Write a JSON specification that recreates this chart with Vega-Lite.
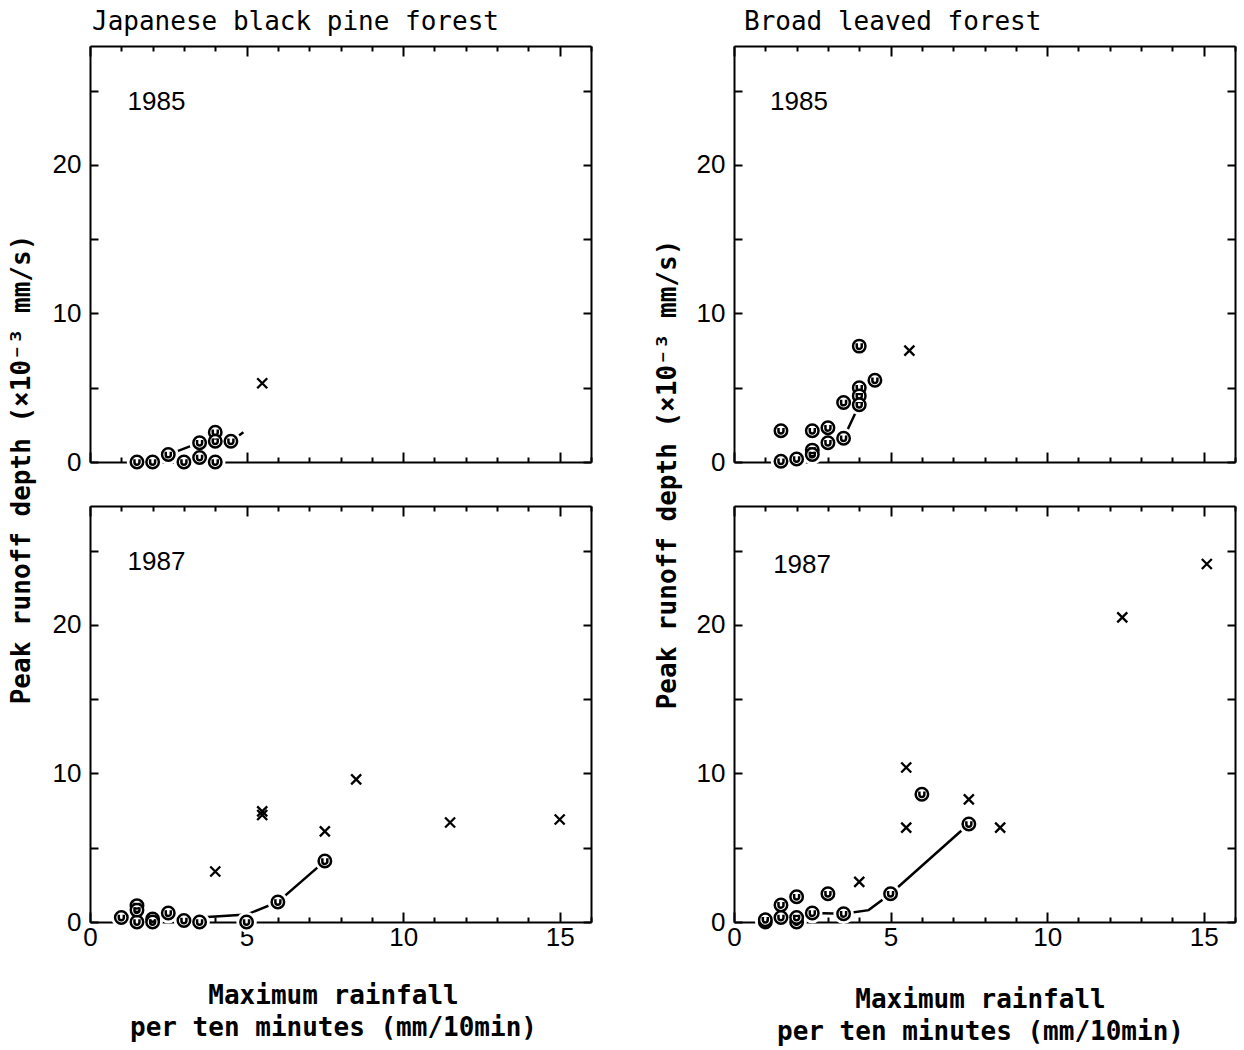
{
  "$schema": "https://vega.github.io/schema/vega-lite/v6.json",
  "padding": {"left": 8, "top": 9, "right": 5, "bottom": 5},
  "background": "white",
  "datasets": {
    "pts": [
      {"panel": "P85", "kind": "circle", "x": 1.5, "y": 0},
      {"panel": "P85", "kind": "circle", "x": 2, "y": 0},
      {"panel": "P85", "kind": "circle", "x": 2.5, "y": 0.5},
      {"panel": "P85", "kind": "circle", "x": 3, "y": 0},
      {"panel": "P85", "kind": "circle", "x": 3.5, "y": 1.3},
      {"panel": "P85", "kind": "circle", "x": 3.5, "y": 0.3},
      {"panel": "P85", "kind": "circle", "x": 4, "y": 2.0},
      {"panel": "P85", "kind": "circle", "x": 4, "y": 1.4},
      {"panel": "P85", "kind": "circle", "x": 4, "y": 0},
      {"panel": "P85", "kind": "circle", "x": 4.5, "y": 1.4},
      {"panel": "P85", "kind": "cross", "x": 5.5, "y": 5.3},
      {"panel": "P85", "kind": "line", "x": 2.0, "y": 0.1},
      {"panel": "P85", "kind": "line", "x": 2.5, "y": 0.5},
      {"panel": "P85", "kind": "line", "x": 3.5, "y": 1.3},
      {"panel": "P85", "kind": "line", "x": 4.0, "y": 1.45},
      {"panel": "P85", "kind": "line", "x": 4.5, "y": 1.4},
      {"panel": "P85", "kind": "line", "x": 4.9, "y": 2.0},

      {"panel": "P87", "kind": "circle", "x": 1, "y": 0.3},
      {"panel": "P87", "kind": "circle", "x": 1.5, "y": 0},
      {"panel": "P87", "kind": "circle", "x": 1.5, "y": 1.1},
      {"panel": "P87", "kind": "circle", "x": 1.5, "y": 0.8},
      {"panel": "P87", "kind": "circle", "x": 2, "y": 0.2},
      {"panel": "P87", "kind": "circle", "x": 2, "y": 0},
      {"panel": "P87", "kind": "circle", "x": 2.5, "y": 0.6},
      {"panel": "P87", "kind": "circle", "x": 3, "y": 0.1},
      {"panel": "P87", "kind": "circle", "x": 3.5, "y": 0},
      {"panel": "P87", "kind": "circle", "x": 5, "y": 0},
      {"panel": "P87", "kind": "circle", "x": 6, "y": 1.35},
      {"panel": "P87", "kind": "circle", "x": 7.5, "y": 4.1},
      {"panel": "P87", "kind": "cross", "x": 4, "y": 3.4},
      {"panel": "P87", "kind": "cross", "x": 5.5, "y": 7.2},
      {"panel": "P87", "kind": "cross", "x": 5.5, "y": 7.45},
      {"panel": "P87", "kind": "cross", "x": 7.5, "y": 6.1},
      {"panel": "P87", "kind": "cross", "x": 8.5, "y": 9.6},
      {"panel": "P87", "kind": "cross", "x": 11.5, "y": 6.7},
      {"panel": "P87", "kind": "cross", "x": 15, "y": 6.9},
      {"panel": "P87", "kind": "line", "x": 3.5, "y": 0.3},
      {"panel": "P87", "kind": "line", "x": 5, "y": 0.5},
      {"panel": "P87", "kind": "line", "x": 6, "y": 1.35},
      {"panel": "P87", "kind": "line", "x": 7.5, "y": 4.1},

      {"panel": "B85", "kind": "circle", "x": 1.5, "y": 0.05},
      {"panel": "B85", "kind": "circle", "x": 1.5, "y": 2.1},
      {"panel": "B85", "kind": "circle", "x": 2, "y": 0.2},
      {"panel": "B85", "kind": "circle", "x": 2.5, "y": 2.1},
      {"panel": "B85", "kind": "circle", "x": 2.5, "y": 0.8},
      {"panel": "B85", "kind": "circle", "x": 2.5, "y": 0.5},
      {"panel": "B85", "kind": "circle", "x": 3, "y": 1.3},
      {"panel": "B85", "kind": "circle", "x": 3, "y": 2.3},
      {"panel": "B85", "kind": "circle", "x": 3.5, "y": 1.6},
      {"panel": "B85", "kind": "circle", "x": 3.5, "y": 4.0},
      {"panel": "B85", "kind": "circle", "x": 4, "y": 7.8},
      {"panel": "B85", "kind": "circle", "x": 4, "y": 5.0},
      {"panel": "B85", "kind": "circle", "x": 4, "y": 4.45},
      {"panel": "B85", "kind": "circle", "x": 4, "y": 3.85},
      {"panel": "B85", "kind": "circle", "x": 4.5, "y": 5.5},
      {"panel": "B85", "kind": "cross", "x": 5.6, "y": 7.5},
      {"panel": "B85", "kind": "line", "x": 1.5, "y": 0.05},
      {"panel": "B85", "kind": "line", "x": 2, "y": 0.2},
      {"panel": "B85", "kind": "line", "x": 2.5, "y": 0.65},
      {"panel": "B85", "kind": "line", "x": 3, "y": 1.3},
      {"panel": "B85", "kind": "line", "x": 3.5, "y": 1.6},
      {"panel": "B85", "kind": "line", "x": 4, "y": 3.85},
      {"panel": "B85", "kind": "line", "x": 4.01, "y": 5.0},
      {"panel": "B85", "kind": "line", "x": 4.5, "y": 5.5},

      {"panel": "B87", "kind": "circle", "x": 1, "y": 0},
      {"panel": "B87", "kind": "circle", "x": 1, "y": 0.15},
      {"panel": "B87", "kind": "circle", "x": 1.5, "y": 1.15},
      {"panel": "B87", "kind": "circle", "x": 1.5, "y": 0.3},
      {"panel": "B87", "kind": "circle", "x": 2, "y": 0},
      {"panel": "B87", "kind": "circle", "x": 2, "y": 0.3},
      {"panel": "B87", "kind": "circle", "x": 2, "y": 1.7},
      {"panel": "B87", "kind": "circle", "x": 2.5, "y": 0.6},
      {"panel": "B87", "kind": "circle", "x": 3, "y": 1.9},
      {"panel": "B87", "kind": "circle", "x": 3.5, "y": 0.55},
      {"panel": "B87", "kind": "circle", "x": 5, "y": 1.9},
      {"panel": "B87", "kind": "circle", "x": 6, "y": 8.6},
      {"panel": "B87", "kind": "circle", "x": 7.5, "y": 6.6},
      {"panel": "B87", "kind": "cross", "x": 4, "y": 2.7},
      {"panel": "B87", "kind": "cross", "x": 5.5, "y": 10.4},
      {"panel": "B87", "kind": "cross", "x": 5.5, "y": 6.35},
      {"panel": "B87", "kind": "cross", "x": 7.5, "y": 8.25},
      {"panel": "B87", "kind": "cross", "x": 8.5, "y": 6.35},
      {"panel": "B87", "kind": "cross", "x": 12.4, "y": 20.5},
      {"panel": "B87", "kind": "cross", "x": 15.1, "y": 24.1},
      {"panel": "B87", "kind": "line", "x": 1, "y": 0.1},
      {"panel": "B87", "kind": "line", "x": 1.5, "y": 0.3},
      {"panel": "B87", "kind": "line", "x": 2, "y": 0.35},
      {"panel": "B87", "kind": "line", "x": 2.5, "y": 0.6},
      {"panel": "B87", "kind": "line", "x": 3.5, "y": 0.55},
      {"panel": "B87", "kind": "line", "x": 4.3, "y": 0.8},
      {"panel": "B87", "kind": "line", "x": 5, "y": 1.9},
      {"panel": "B87", "kind": "line", "x": 7.5, "y": 6.6}
    ]
  },
  "data": {"name": "pts"},
  "columns": 2,
  "spacing": {"row": 44, "column": 143},
  "bounds": "flush",
  "concat": [
    {
      "width": 501, "height": 416,
      "title": {"text": "Japanese black pine forest", "anchor": "start", "frame": "group", "dx": 2, "offset": 10},
      "transform": [{"filter": "datum.panel === 'P85'"}],
      "resolve": {"axis": {"x": "independent", "y": "independent"}},
      "layer": [
        {"transform": [{"filter": "datum.kind === 'line'"}],
         "mark": {"type": "line", "color": "black", "strokeWidth": 2.5},
         "encoding": {
           "x": {"field": "x", "type": "quantitative", "scale": {"domain": [0, 16], "nice": false, "zero": false},
                 "axis": {"orient": "bottom", "values": [0,1,2,3,4,5,6,7,8,9,10,11,12,13,14,15,16], "tickSize": {"condition": {"test": "datum.value % 5 === 0", "value": -10}, "value": -5}, "labels": false, "title": null}},
           "y": {"field": "y", "type": "quantitative", "scale": {"domain": [0, 28], "nice": false},
                 "axis": {"orient": "left", "values": [0,5,10,15,20,25], "tickSize": -8, "labelExpr": "datum.value % 10 === 0 ? datum.label : ''", "labelPadding": 17, "title": "Peak runoff depth (×10⁻³ mm/s)", "titleX": -69, "titleY": 423, "titleBaseline": "middle", "titleAlign": "center", "titleAngle": -90}}
         }},
        {"transform": [{"filter": "datum.kind === 'circle'"}],
         "mark": {"type": "point", "shape": "circle", "filled": true, "fill": "white", "strokeWidth": 0, "size": 420, "opacity": 1},
         "encoding": {"x": {"field": "x", "type": "quantitative", "axis": null}, "y": {"field": "y", "type": "quantitative", "axis": null}}},
        {"transform": [{"filter": "datum.kind === 'circle'"}],
         "mark": {"type": "point", "shape": "M-1,0A1,1,0,1,1,1,0A1,1,0,1,1,-1,0Z M-0.4,-0.45L-0.4,0.05A0.4,0.4,0,0,0,0.4,0.05L0.4,-0.45", "filled": true, "fill": "white", "stroke": "black", "strokeWidth": 2.5, "size": 155, "opacity": 1},
         "encoding": {
           "x": {"field": "x", "type": "quantitative", "axis": {"orient": "top", "values": [0,1,2,3,4,5,6,7,8,9,10,11,12,13,14,15,16], "tickSize": {"condition": {"test": "datum.value % 5 === 0", "value": -10}, "value": -5}, "labels": false, "title": null}},
           "y": {"field": "y", "type": "quantitative", "axis": {"orient": "right", "values": [0,5,10,15,20,25], "tickSize": -8, "labels": false, "title": null}}
         }},
        {"transform": [{"filter": "datum.kind === 'cross'"}],
         "mark": {"type": "point", "shape": "M-1,-1L1,1M-1,1L1,-1", "filled": false, "stroke": "black", "strokeWidth": 2.3, "size": 100, "opacity": 1},
         "encoding": {"x": {"field": "x", "type": "quantitative", "axis": null}, "y": {"field": "y", "type": "quantitative", "axis": null}}},
        {"data": {"values": [{"label": "1985"}]},
         "mark": {"type": "text", "font": "Liberation Sans", "fontSize": 26, "align": "left", "baseline": "middle", "color": "black"},
         "encoding": {"x": {"datum": 1.2, "type": "quantitative", "axis": null}, "y": {"datum": 24.2, "type": "quantitative", "axis": null}, "text": {"field": "label"}}}
      ]
    },
    {
      "width": 501, "height": 416,
      "title": {"text": "Broad leaved forest", "anchor": "start", "frame": "group", "dx": 10, "offset": 10},
      "transform": [{"filter": "datum.panel === 'B85'"}],
      "resolve": {"axis": {"x": "independent", "y": "independent"}},
      "layer": [
        {"transform": [{"filter": "datum.kind === 'line'"}],
         "mark": {"type": "line", "color": "black", "strokeWidth": 2.5},
         "encoding": {
           "x": {"field": "x", "type": "quantitative", "scale": {"domain": [0, 16], "nice": false, "zero": false},
                 "axis": {"orient": "bottom", "values": [0,1,2,3,4,5,6,7,8,9,10,11,12,13,14,15,16], "tickSize": {"condition": {"test": "datum.value % 5 === 0", "value": -10}, "value": -5}, "labels": false, "title": null}},
           "y": {"field": "y", "type": "quantitative", "scale": {"domain": [0, 28], "nice": false},
                 "axis": {"orient": "left", "values": [0,5,10,15,20,25], "tickSize": -8, "labelExpr": "datum.value % 10 === 0 ? datum.label : ''", "labelPadding": 17, "title": "Peak runoff depth (×10⁻³ mm/s)", "titleX": -67, "titleY": 428, "titleBaseline": "middle", "titleAlign": "center", "titleAngle": -90}}
         }},
        {"transform": [{"filter": "datum.kind === 'circle'"}],
         "mark": {"type": "point", "shape": "circle", "filled": true, "fill": "white", "strokeWidth": 0, "size": 420, "opacity": 1},
         "encoding": {"x": {"field": "x", "type": "quantitative", "axis": null}, "y": {"field": "y", "type": "quantitative", "axis": null}}},
        {"transform": [{"filter": "datum.kind === 'circle'"}],
         "mark": {"type": "point", "shape": "M-1,0A1,1,0,1,1,1,0A1,1,0,1,1,-1,0Z M-0.4,-0.45L-0.4,0.05A0.4,0.4,0,0,0,0.4,0.05L0.4,-0.45", "filled": true, "fill": "white", "stroke": "black", "strokeWidth": 2.5, "size": 155, "opacity": 1},
         "encoding": {
           "x": {"field": "x", "type": "quantitative", "axis": {"orient": "top", "values": [0,1,2,3,4,5,6,7,8,9,10,11,12,13,14,15,16], "tickSize": {"condition": {"test": "datum.value % 5 === 0", "value": -10}, "value": -5}, "labels": false, "title": null}},
           "y": {"field": "y", "type": "quantitative", "axis": {"orient": "right", "values": [0,5,10,15,20,25], "tickSize": -8, "labels": false, "title": null}}
         }},
        {"transform": [{"filter": "datum.kind === 'cross'"}],
         "mark": {"type": "point", "shape": "M-1,-1L1,1M-1,1L1,-1", "filled": false, "stroke": "black", "strokeWidth": 2.3, "size": 100, "opacity": 1},
         "encoding": {"x": {"field": "x", "type": "quantitative", "axis": null}, "y": {"field": "y", "type": "quantitative", "axis": null}}},
        {"data": {"values": [{"label": "1985"}]},
         "mark": {"type": "text", "font": "Liberation Sans", "fontSize": 26, "align": "left", "baseline": "middle", "color": "black"},
         "encoding": {"x": {"datum": 1.15, "type": "quantitative", "axis": null}, "y": {"datum": 24.2, "type": "quantitative", "axis": null}, "text": {"field": "label"}}}
      ]
    },
    {
      "width": 501, "height": 416,
      "transform": [{"filter": "datum.panel === 'P87'"}],
      "resolve": {"axis": {"x": "independent", "y": "independent"}},
      "layer": [
        {"transform": [{"filter": "datum.kind === 'line'"}],
         "mark": {"type": "line", "color": "black", "strokeWidth": 2.5},
         "encoding": {
           "x": {"field": "x", "type": "quantitative", "scale": {"domain": [0, 16], "nice": false, "zero": false},
                 "axis": {"orient": "bottom", "values": [0,1,2,3,4,5,6,7,8,9,10,11,12,13,14,15,16], "tickSize": {"condition": {"test": "datum.value % 5 === 0", "value": -10}, "value": -5}, "labelExpr": "datum.value % 5 === 0 ? datum.label : ''", "labelPadding": 12, "title": ["Maximum rainfall", "per ten minutes (mm/10min)"], "titleX": 243, "titleY": 73, "titleBaseline": "middle", "titleLineHeight": 32}},
           "y": {"field": "y", "type": "quantitative", "scale": {"domain": [0, 28], "nice": false},
                 "axis": {"orient": "left", "values": [0,5,10,15,20,25], "tickSize": -8, "labelExpr": "datum.value % 10 === 0 ? datum.label : ''", "labelPadding": 17, "title": null}}
         }},
        {"transform": [{"filter": "datum.kind === 'circle'"}],
         "mark": {"type": "point", "shape": "circle", "filled": true, "fill": "white", "strokeWidth": 0, "size": 420, "opacity": 1},
         "encoding": {"x": {"field": "x", "type": "quantitative", "axis": null}, "y": {"field": "y", "type": "quantitative", "axis": null}}},
        {"transform": [{"filter": "datum.kind === 'circle'"}],
         "mark": {"type": "point", "shape": "M-1,0A1,1,0,1,1,1,0A1,1,0,1,1,-1,0Z M-0.4,-0.45L-0.4,0.05A0.4,0.4,0,0,0,0.4,0.05L0.4,-0.45", "filled": true, "fill": "white", "stroke": "black", "strokeWidth": 2.5, "size": 155, "opacity": 1},
         "encoding": {
           "x": {"field": "x", "type": "quantitative", "axis": {"orient": "top", "values": [0,1,2,3,4,5,6,7,8,9,10,11,12,13,14,15,16], "tickSize": {"condition": {"test": "datum.value % 5 === 0", "value": -10}, "value": -5}, "labels": false, "title": null}},
           "y": {"field": "y", "type": "quantitative", "axis": {"orient": "right", "values": [0,5,10,15,20,25], "tickSize": -8, "labels": false, "title": null}}
         }},
        {"transform": [{"filter": "datum.kind === 'cross'"}],
         "mark": {"type": "point", "shape": "M-1,-1L1,1M-1,1L1,-1", "filled": false, "stroke": "black", "strokeWidth": 2.3, "size": 100, "opacity": 1},
         "encoding": {"x": {"field": "x", "type": "quantitative", "axis": null}, "y": {"field": "y", "type": "quantitative", "axis": null}}},
        {"data": {"values": [{"label": "1987"}]},
         "mark": {"type": "text", "font": "Liberation Sans", "fontSize": 26, "align": "left", "baseline": "middle", "color": "black"},
         "encoding": {"x": {"datum": 1.2, "type": "quantitative", "axis": null}, "y": {"datum": 24.2, "type": "quantitative", "axis": null}, "text": {"field": "label"}}}
      ]
    },
    {
      "width": 501, "height": 416,
      "transform": [{"filter": "datum.panel === 'B87'"}],
      "resolve": {"axis": {"x": "independent", "y": "independent"}},
      "layer": [
        {"transform": [{"filter": "datum.kind === 'line'"}],
         "mark": {"type": "line", "color": "black", "strokeWidth": 2.5},
         "encoding": {
           "x": {"field": "x", "type": "quantitative", "scale": {"domain": [0, 16], "nice": false, "zero": false},
                 "axis": {"orient": "bottom", "values": [0,1,2,3,4,5,6,7,8,9,10,11,12,13,14,15,16], "tickSize": {"condition": {"test": "datum.value % 5 === 0", "value": -10}, "value": -5}, "labelExpr": "datum.value % 5 === 0 ? datum.label : ''", "labelPadding": 12, "title": ["Maximum rainfall", "per ten minutes (mm/10min)"], "titleX": 246, "titleY": 77, "titleBaseline": "middle", "titleLineHeight": 32}},
           "y": {"field": "y", "type": "quantitative", "scale": {"domain": [0, 28], "nice": false},
                 "axis": {"orient": "left", "values": [0,5,10,15,20,25], "tickSize": -8, "labelExpr": "datum.value % 10 === 0 ? datum.label : ''", "labelPadding": 17, "title": null}}
         }},
        {"transform": [{"filter": "datum.kind === 'circle'"}],
         "mark": {"type": "point", "shape": "circle", "filled": true, "fill": "white", "strokeWidth": 0, "size": 420, "opacity": 1},
         "encoding": {"x": {"field": "x", "type": "quantitative", "axis": null}, "y": {"field": "y", "type": "quantitative", "axis": null}}},
        {"transform": [{"filter": "datum.kind === 'circle'"}],
         "mark": {"type": "point", "shape": "M-1,0A1,1,0,1,1,1,0A1,1,0,1,1,-1,0Z M-0.4,-0.45L-0.4,0.05A0.4,0.4,0,0,0,0.4,0.05L0.4,-0.45", "filled": true, "fill": "white", "stroke": "black", "strokeWidth": 2.5, "size": 155, "opacity": 1},
         "encoding": {
           "x": {"field": "x", "type": "quantitative", "axis": {"orient": "top", "values": [0,1,2,3,4,5,6,7,8,9,10,11,12,13,14,15,16], "tickSize": {"condition": {"test": "datum.value % 5 === 0", "value": -10}, "value": -5}, "labels": false, "title": null}},
           "y": {"field": "y", "type": "quantitative", "axis": {"orient": "right", "values": [0,5,10,15,20,25], "tickSize": -8, "labels": false, "title": null}}
         }},
        {"transform": [{"filter": "datum.kind === 'cross'"}],
         "mark": {"type": "point", "shape": "M-1,-1L1,1M-1,1L1,-1", "filled": false, "stroke": "black", "strokeWidth": 2.3, "size": 100, "opacity": 1},
         "encoding": {"x": {"field": "x", "type": "quantitative", "axis": null}, "y": {"field": "y", "type": "quantitative", "axis": null}}},
        {"data": {"values": [{"label": "1987"}]},
         "mark": {"type": "text", "font": "Liberation Sans", "fontSize": 26, "align": "left", "baseline": "middle", "color": "black"},
         "encoding": {"x": {"datum": 1.25, "type": "quantitative", "axis": null}, "y": {"datum": 24.0, "type": "quantitative", "axis": null}, "text": {"field": "label"}}}
      ]
    }
  ],
  "config": {
    "view": {"stroke": null},
    "axis": {"domainColor": "black", "domainWidth": 2, "tickColor": "black", "tickWidth": 2, "grid": false,
             "labelFont": "Liberation Sans", "labelFontSize": 26, "labelColor": "black", "labelFlush": false, "labelOverlap": false,
             "titleFont": "DejaVu Sans Mono", "titleFontSize": 26, "titleFontWeight": "bold", "titleColor": "black", "zindex": 1},
    "title": {"font": "DejaVu Sans Mono", "fontSize": 26, "fontWeight": "normal", "color": "black"}
  }
}
